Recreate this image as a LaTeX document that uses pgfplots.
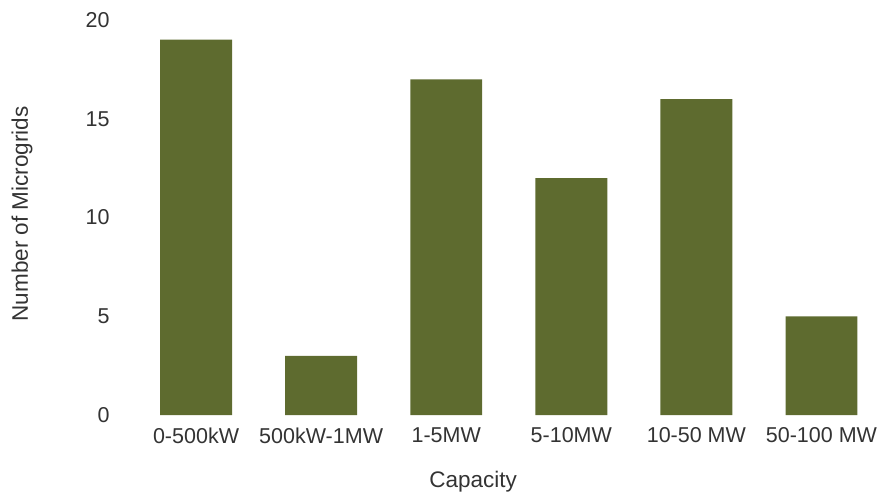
\documentclass[border=0pt]{standalone}
\usepackage{pgfplots}
\pgfplotsset{compat=1.18}
\usepackage{fontspec}
\setmainfont{Liberation Sans}
\definecolor{barc}{HTML}{5E6B2F}
\definecolor{txt}{HTML}{333333}
\begin{document}
\begin{tikzpicture}
\begin{axis}[
  scale only axis,
  width=738pt, height=395pt,
  xmin=-0.6, xmax=5.3,
  ymin=0, ymax=20,
  axis line style={draw=none},
  tick style={draw=none},
  ytick={0,5,10,15,20},
  xtick=data,
  xticklabels={0-500kW,500kW-1MW,1-5MW,5-10MW,10-50 MW,50-100 MW},
  /pgf/number format/assume math mode=true,
  ticklabel style={font=\fontsize{21.5}{25}\selectfont, text=txt},
  yticklabel style={xshift=-8pt},
  xticklabel style={yshift=-9pt},
  ylabel={Number of Microgrids},
  xlabel={Capacity},
  label style={font=\fontsize{22.5}{26}\selectfont, text=txt},
  ylabel style={at={(axis description cs:-0.134,0.509)}, anchor=center},
  xlabel style={at={(axis description cs:0.477,-0.170)}, anchor=center},
  clip=false,
]
\addplot[ybar, bar width=0.575, fill=barc, draw=none] coordinates {
  (0,19) (1,3) (2,17) (3,12) (4,16) (5,5)
};
\end{axis}
\path[use as bounding box] (current axis.south west) ++(-121pt,-83pt) rectangle ++(882pt,498pt);
\end{tikzpicture}
\end{document}
